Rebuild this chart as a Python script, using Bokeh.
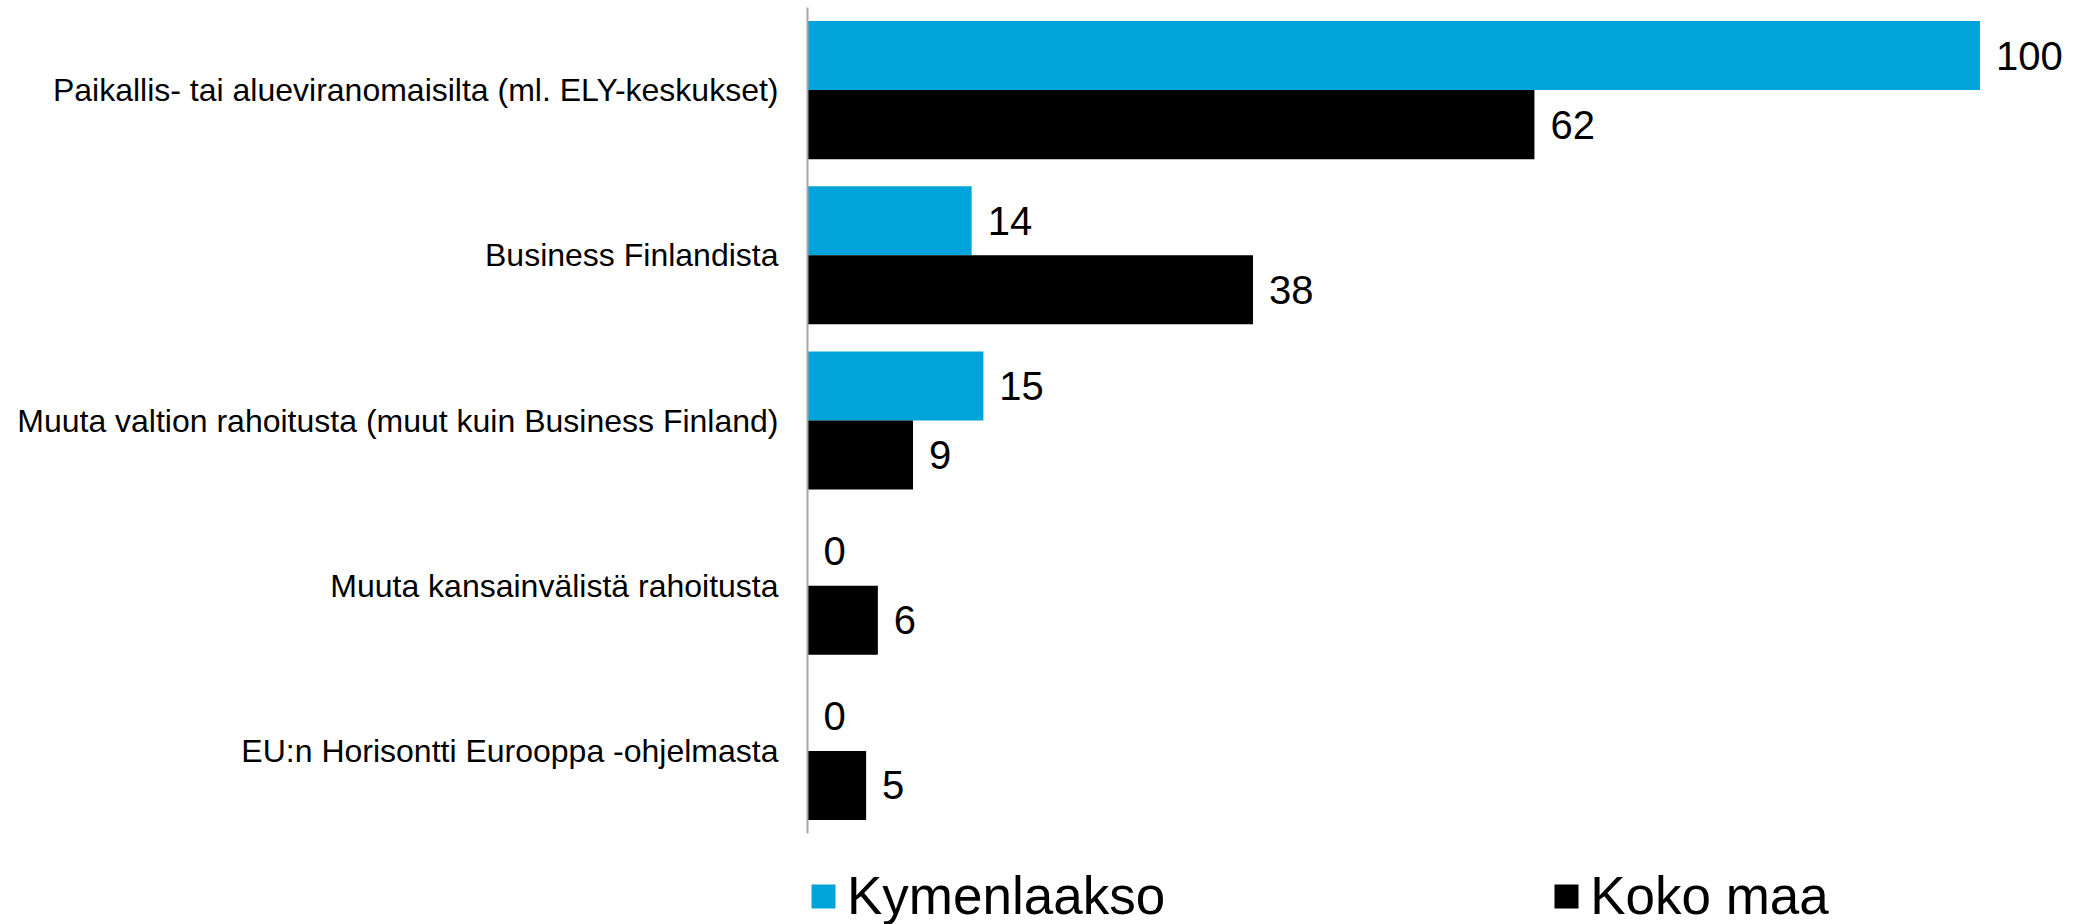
from bokeh.plotting import figure
from bokeh.models import (ColumnDataSource, Range1d, LabelSet, Legend, LegendItem,
                          FixedTicker)
from bokeh.transform import dodge
from bokeh.core.properties import value
from bokeh.embed import file_html
from bokeh.resources import INLINE

categories = [
    "Paikallis- tai alueviranomaisilta (ml. ELY-keskukset)",
    "Business Finlandista",
    "Muuta valtion rahoitusta (muut kuin Business Finland)",
    "Muuta kansainvälistä rahoitusta",
    "EU:n Horisontti Eurooppa -ohjelmasta",
]
kymenlaakso = [100, 14, 15, 0, 0]
koko_maa = [62, 38, 9, 6, 5]
series_names = ["Kymenlaakso", "Koko maa"]
colors = ["#00A4DA", "#000000"]

FONT = "Liberation Sans"

n = len(categories)
ypos = [n - i - 0.5 for i in range(n)]  # category band centres, top to bottom

src = ColumnDataSource(dict(y=ypos, k=kymenlaakso, m=koko_maa,
                            kl=[str(v) for v in kymenlaakso],
                            ml=[str(v) for v in koko_maa]))

band_px = 165.2
p = figure(width=2085, height=924, output_backend="svg", toolbar_location=None,
           y_range=Range1d(-91 / band_px, n + 7 / band_px),
           x_range=Range1d(0, 109), x_axis_location=None,
           min_border_left=807, min_border_right=0, min_border_top=0, min_border_bottom=0)
p.grid.visible = False
p.outline_line_color = None
p.background_fill_color = None
p.border_fill_color = None

bw = 0.418
r1 = p.hbar(y=dodge("y", bw / 2), right="k", left=0, height=bw,
            source=src, fill_color=colors[0], line_color=None)
r2 = p.hbar(y=dodge("y", -bw / 2), right="m", left=0, height=bw,
            source=src, fill_color=colors[1], line_color=None)

for col, lab, off in (("k", "kl", bw / 2), ("m", "ml", -bw / 2)):
    p.add_layout(LabelSet(x=col, y=dodge("y", off), text=lab,
                          source=src, x_offset=16, text_baseline="middle",
                          text_font=value(FONT), text_font_size=value("40px"),
                          text_color="#000000"))

ax = p.yaxis[0]
ax.ticker = FixedTicker(ticks=ypos)
ax.major_label_overrides = {y: c for y, c in zip(ypos, categories)}
ax.bounds = (0, n)
ax.axis_line_color = "#A6A6A6"
ax.axis_line_width = 2
ax.major_tick_line_color = None
ax.minor_tick_line_color = None
ax.major_label_text_font = FONT
ax.major_label_text_font_size = "32px"
ax.major_label_text_color = "#000000"
ax.major_label_standoff = 23

legend = Legend(items=[LegendItem(label=series_names[0], renderers=[r1]),
                       LegendItem(label=series_names[1], renderers=[r2])],
                orientation="horizontal", location=(1, -2),
                glyph_width=30, glyph_height=30, label_standoff=9,
                label_text_font=FONT, label_text_font_size="53px",
                label_text_color="#000000",
                label_height=30, spacing=386, padding=0, margin=0,
                border_line_color=None, background_fill_alpha=0)
p.add_layout(legend)

open("out.html", "w").write(file_html(p, INLINE))
